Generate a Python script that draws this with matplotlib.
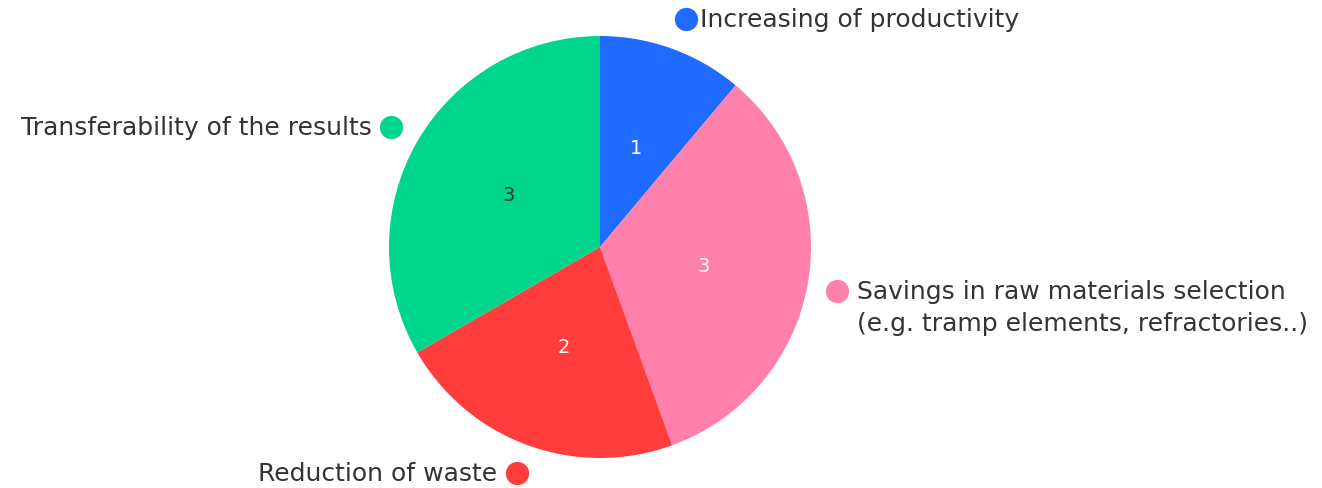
import numpy as np
import matplotlib
matplotlib.use("Agg")
import matplotlib.pyplot as plt

labels = ["Increasing of productivity",
          "Savings in raw materials selection\n(e.g. tramp elements, refractories..)",
          "Reduction of waste",
          "Transferability of the results"]
values = [1, 3, 2, 3]
colors = ["#1f6bff", "#ff80aa", "#ff3d3d", "#00d68b"]
value_colors = ["white", "white", "white", "#123d2a"]

W, H = 1322, 489
cx, cy, r = 600, H - 248, 211

fig = plt.figure(figsize=(W / 100, H / 100), dpi=100)
ax = fig.add_axes([0, 0, 1, 1])

ax.pie(values, colors=colors, startangle=90, counterclock=False,
       center=(cx, cy), radius=r, frame=True)
ax.set_xlim(0, W)
ax.set_ylim(0, H)
ax.set_aspect("equal")
ax.axis("off")

# value labels inside slices
tot = float(sum(values))
ang = 90.0
for v, c in zip(values, value_colors):
    mid = ang - 180.0 * v / tot
    ang -= 360.0 * v / tot
    x = cx + 0.5 * r * np.cos(np.radians(mid))
    y = cy + 0.5 * r * np.sin(np.radians(mid))
    ax.text(x, y, str(v), color=c, fontsize=14, ha="center", va="center")

# outer labels with coloured dots (dot position in pixels from top-left, gap to text)
label_pos = [(686, 20, "right", 14), (837, 292, "right", 20),
             (517, 474, "left", 20), (391, 128, "left", 19)]
for (dx, dy, side, gap), lab, col in zip(label_pos, labels, colors):
    ax.scatter([dx], [H - dy], s=280, color=col, zorder=5, linewidths=0)
    if side == "right":
        ty = H - dy - 16 if "\n" in lab else H - dy
        ax.text(dx + gap, ty, lab, ha="left", va="center", fontsize=18,
                color="#333333", linespacing=1.38)
    else:
        ax.text(dx - gap, H - dy, lab, ha="right", va="center", fontsize=18,
                color="#333333")

fig.savefig("out.png", dpi=100)
